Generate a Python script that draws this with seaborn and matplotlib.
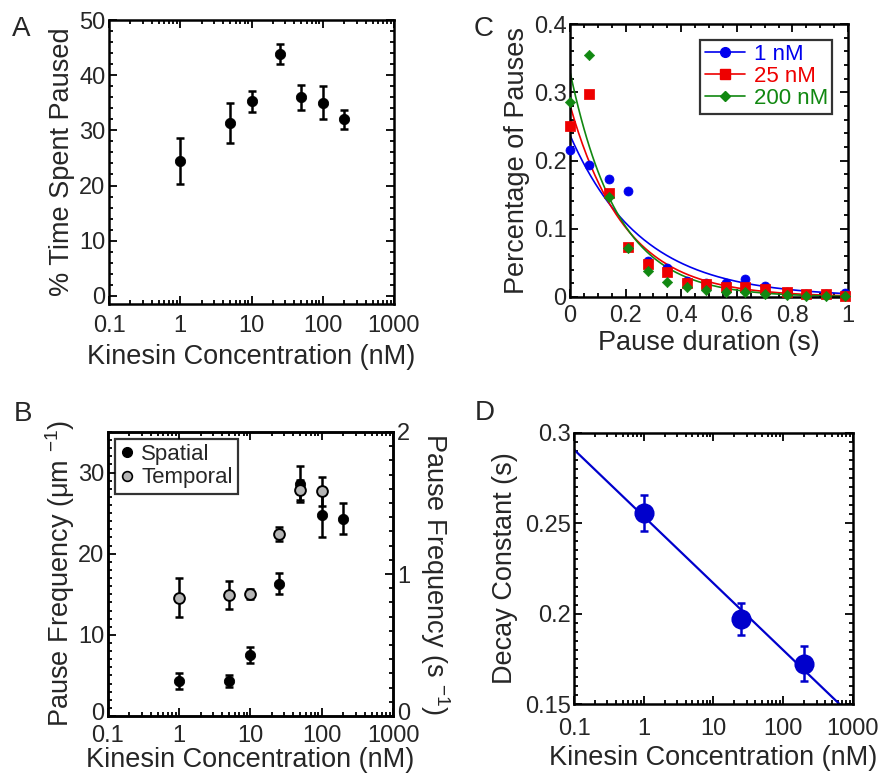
import numpy as np
import pandas as pd
import matplotlib
matplotlib.use('Agg')
import matplotlib.pyplot as plt
import matplotlib.ticker as mticker
import matplotlib.transforms as mtransforms
from matplotlib.lines import Line2D
import seaborn as sns

sns.set_theme(style='ticks')
plt.rcParams['font.family'] = ['Liberation Sans', 'DejaVu Sans']
plt.rcParams['mathtext.fontset'] = 'custom'
plt.rcParams['mathtext.rm'] = 'Liberation Sans'
plt.rcParams['mathtext.it'] = 'Liberation Sans'

# Panel A - % time paused vs kinesin
conc_a = [1, 5, 10, 25, 50, 100, 200]
paused = [24.4, 31.4, 35.3, 43.8, 36.0, 35.0, 32.0]
paused_err = [4.2, 3.6, 1.9, 1.8, 2.3, 3.0, 1.7]

# Panel B - pause frequency
conc_b = [1, 5, 10, 25, 50, 100, 200]
spatial = [4.3, 4.3, 7.5, 16.3, 28.6, 24.8, 24.3]
spatial_err = [1.0, 0.75, 1.0, 1.3, 2.2, 2.8, 1.9]
conc_t = [1, 5, 10, 25, 50, 100]
temporal = [0.834, 0.853, 0.858, 1.281, 1.593, 1.582]
temporal_err = [0.14, 0.10, 0.035, 0.05, 0.07, 0.10]

# Panel C - pause duration histograms
duration = [0, 0.07, 0.14, 0.21, 0.28, 0.35, 0.42, 0.49, 0.56, 0.63, 0.70, 0.78, 0.85, 0.92, 0.99]
pct_1nM = [0.215, 0.194, 0.173, 0.156, 0.052, 0.0425, 0.023, 0.021, 0.021, 0.026,
           0.016, 0.007, 0.004, 0.005, 0.006]
pct_25nM = [0.25, 0.297, 0.152, 0.073, 0.049, 0.037, 0.021, 0.019, 0.014, 0.014,
            0.011, 0.007, 0.005, 0.004, 0.002]
pct_200nM = [0.286, 0.355, 0.146, 0.072, 0.038, 0.0215, 0.014, 0.010, 0.008, 0.007,
             0.005, 0.003, 0.002, 0.002, 0.002]
# single exponential fits: amplitude, decay constant (s)
fit_amp = [0.237, 0.281, 0.330]
fit_tau = [0.256, 0.197, 0.172]

# Panel D - decay constant vs kinesin
conc_d = [1, 25, 200]
decay = [0.2557, 0.197, 0.1723]
decay_err = [0.0098, 0.009, 0.0097]
# log-linear fit: intercept at 1 nM, slope per decade
line_icpt = 0.2538
line_slope = -0.0370

LBL = 19.5
TCK = 17


def style_axis(ax, right=True, xpad=7):
    ax.tick_params(which='both', direction='in', top=True, right=right,
                   labelsize=TCK, color='black', width=1.3)
    ax.tick_params(which='major', length=6)
    ax.tick_params(which='minor', length=3)
    ax.tick_params(axis='x', pad=xpad)
    ax.tick_params(axis='y', pad=2.5)
    for s in ax.spines.values():
        s.set_linewidth(1.8)
        s.set_color('black')
        s.set_visible(True)


def log_x(ax):
    ax.set_xscale('log')
    ax.set_xlim(0.1, 1000)
    ax.xaxis.set_major_locator(mticker.FixedLocator([0.1, 1, 10, 100, 1000]))
    ax.xaxis.set_major_formatter(mticker.FuncFormatter(lambda v, p: '%g' % v))
    ax.xaxis.set_minor_locator(mticker.LogLocator(base=10, subs=np.arange(2, 10)))
    ax.xaxis.set_minor_formatter(mticker.NullFormatter())


fig = plt.figure(figsize=(8.82, 7.75), dpi=100)
ax_a = fig.add_axes([0.1236, 0.6077, 0.3231, 0.3663])
ax_b = fig.add_axes([0.1224, 0.0761, 0.3232, 0.3665])
ax_c = fig.add_axes([0.6463, 0.6168, 0.3152, 0.3522])
ax_d = fig.add_axes([0.6508, 0.0916, 0.3163, 0.3497])

# ---- A
df_a = pd.DataFrame({'conc': conc_a, 'paused': paused})
ax_a.errorbar(conc_a, paused, yerr=paused_err, fmt='none', ecolor='black',
              elinewidth=1.8, capsize=3, capthick=1.8, zorder=2)
sns.scatterplot(data=df_a, x='conc', y='paused', ax=ax_a, color='black', s=55,
                edgecolor='black', zorder=3)
log_x(ax_a)
ax_a.set_ylim(-1.5, 50)
ax_a.yaxis.set_major_locator(mticker.MultipleLocator(10))
ax_a.yaxis.set_minor_locator(mticker.MultipleLocator(2))
ax_a.set_xlabel('Kinesin Concentration (nM)', fontsize=LBL, labelpad=5)
ax_a.set_ylabel('% Time Spent Paused', fontsize=LBL, labelpad=3)
style_axis(ax_a, xpad=8)

# ---- B
df_s = pd.DataFrame({'conc': conc_b, 'freq': spatial})
df_t = pd.DataFrame({'conc': conc_t, 'freq': temporal})
ax_b2 = ax_b.twinx()
ax_b.errorbar(conc_b, spatial, yerr=spatial_err, fmt='none', ecolor='black',
              elinewidth=1.8, capsize=3, capthick=1.8, zorder=2)
sns.scatterplot(data=df_s, x='conc', y='freq', ax=ax_b, color='black', s=55,
                edgecolor='black', zorder=3)
ax_b2.errorbar(conc_t, temporal, yerr=temporal_err, fmt='none', ecolor='black',
               elinewidth=1.8, capsize=3, capthick=1.8, zorder=2)
sns.scatterplot(data=df_t, x='conc', y='freq', ax=ax_b2, color='#b5b5b5', s=60,
                edgecolor='black', linewidth=1.4, zorder=3)
log_x(ax_b)
ax_b.set_ylim(0, 35)
ax_b.yaxis.set_major_locator(mticker.FixedLocator([0, 10, 20, 30]))
ax_b.yaxis.set_minor_locator(mticker.MultipleLocator(1))
ax_b2.set_ylim(0, 2)
ax_b2.yaxis.set_major_locator(mticker.FixedLocator([0, 1, 2]))
ax_b2.yaxis.set_minor_locator(mticker.MultipleLocator(0.1))
ax_b.set_xlabel('Kinesin Concentration (nM)', fontsize=LBL, labelpad=0)
ax_b.set_ylabel('Pause Frequency (μm $^{-1}$)', fontsize=LBL, labelpad=1)
ax_b2.set_ylabel('Pause Frequency (s $^{-1}$)', fontsize=LBL, rotation=270, labelpad=30)
style_axis(ax_b, right=False, xpad=6.5)
ax_b2.tick_params(which='both', direction='in', labelsize=TCK, color='black', width=1.3,
                  pad=3)
ax_b2.tick_params(which='major', length=6)
ax_b2.tick_params(which='minor', length=3)
for s in ax_b2.spines.values():
    s.set_linewidth(1.8)
    s.set_color('black')
# lift the two "0" labels a touch so they clear the x tick labels
lift = mtransforms.ScaledTranslation(0, 0.05, fig.dpi_scale_trans)
for axis in (ax_b.yaxis, ax_b2.yaxis):
    t0 = axis.get_major_ticks()[0]
    t0.label1.set_transform(t0.label1.get_transform() + lift)
    t0.label2.set_transform(t0.label2.get_transform() + lift)
hb = [Line2D([], [], ls='none', marker='o', ms=7, mfc='black', mec='black'),
      Line2D([], [], ls='none', marker='o', ms=7, mfc='#b5b5b5', mec='black', mew=1.2)]
leg_b = ax_b.legend(hb, ['Spatial', 'Temporal'], loc='upper left', fontsize=16,
                    frameon=True, fancybox=False, edgecolor='black', handlelength=0.6,
                    handletextpad=0.35, borderpad=0.25, labelspacing=0.1,
                    borderaxespad=0.3)
leg_b.get_frame().set_linewidth(1.6)

# ---- C
colors = ['#0000ee', '#ee0000', '#118811']
markers = ['o', 's', 'D']
sizes = [42, 45, 28]
labels = ['1 nM', '25 nM', '200 nM']
xfit = np.linspace(0, 1, 200)
for amp, tau, col in zip(fit_amp, fit_tau, colors):
    sns.lineplot(x=xfit, y=amp * np.exp(-xfit / tau), ax=ax_c, color=col, lw=1.2, zorder=2)
for pct, col, mk, sz in zip([pct_1nM, pct_25nM, pct_200nM], colors, markers, sizes):
    sns.scatterplot(x=duration, y=pct, ax=ax_c, color=col, marker=mk, s=sz,
                    edgecolor=col, zorder=3, clip_on=False)
ax_c.set_xlim(0, 1)
ax_c.set_ylim(0, 0.4)
ax_c.xaxis.set_major_locator(mticker.MultipleLocator(0.2))
ax_c.xaxis.set_minor_locator(mticker.MultipleLocator(0.05))
ax_c.yaxis.set_major_locator(mticker.MultipleLocator(0.1))
ax_c.yaxis.set_minor_locator(mticker.MultipleLocator(0.02))
ax_c.xaxis.set_major_formatter(mticker.FuncFormatter(lambda v, p: '%g' % round(v, 2)))
ax_c.yaxis.set_major_formatter(mticker.FuncFormatter(lambda v, p: '%g' % round(v, 2)))
ax_c.set_xlabel('Pause duration (s)', fontsize=LBL, labelpad=2)
ax_c.set_ylabel('Percentage of Pauses', fontsize=LBL, labelpad=3)
style_axis(ax_c, xpad=6)
hc = [Line2D([], [], color=c, lw=1.2, marker=m, ms=ms, mec=c)
      for c, m, ms in zip(colors, markers, [7, 7, 5.5])]
leg_c = ax_c.legend(hc, labels, loc='upper right', fontsize=16, frameon=True,
                    fancybox=False, edgecolor='black', handlelength=1.8,
                    handletextpad=0.4, borderpad=0.2, labelspacing=0.05,
                    borderaxespad=0.7)
leg_c.get_frame().set_linewidth(1.6)
for t, c in zip(leg_c.get_texts(), colors):
    t.set_color(c)

# ---- D
xl = np.array([0.1, 1000])
sns.lineplot(x=xl, y=line_icpt + line_slope * np.log10(xl), ax=ax_d, color='#0000cc',
             lw=1.6, zorder=2)
ax_d.errorbar(conc_d, decay, yerr=decay_err, fmt='none', ecolor='#0000cc',
              elinewidth=1.8, capsize=3, capthick=1.8, zorder=3)
sns.scatterplot(x=conc_d, y=decay, ax=ax_d, color='#0000cc', s=180,
                edgecolor='#0000cc', zorder=4)
log_x(ax_d)
ax_d.set_ylim(0.15, 0.3)
ax_d.yaxis.set_major_locator(mticker.MultipleLocator(0.05))
ax_d.yaxis.set_minor_locator(mticker.MultipleLocator(0.005))
ax_d.yaxis.set_major_formatter(mticker.FuncFormatter(lambda v, p: '%g' % round(v, 3)))
ax_d.set_xlabel('Kinesin Concentration (nM)', fontsize=LBL, labelpad=4)
ax_d.set_ylabel('Decay Constant (s)', fontsize=LBL, labelpad=5)
style_axis(ax_d, xpad=10)

# panel letters
for lab, x, y in [('A', 0.014, 0.98), ('C', 0.537, 0.98), ('B', 0.016, 0.482),
                  ('D', 0.538, 0.484)]:
    fig.text(x, y, lab, fontsize=20, ha='left', va='top')

fig.savefig('out.png', dpi=100)
